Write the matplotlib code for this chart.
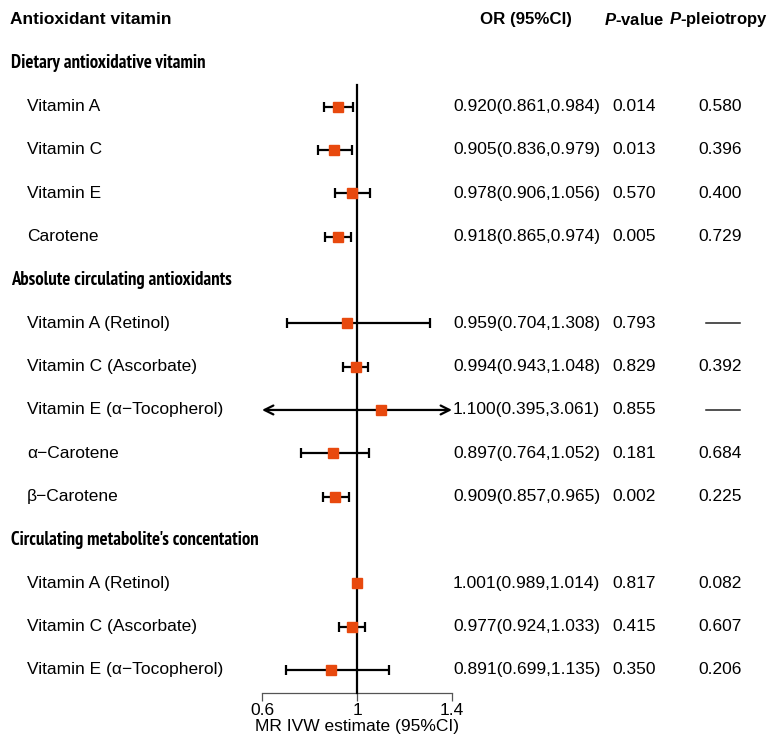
import numpy as np
import matplotlib.pyplot as plt
from matplotlib.transforms import blended_transform_factory
from matplotlib import font_manager
from matplotlib.font_manager import FontProperties

plt.rcParams['font.family'] = ['Liberation Sans', 'DejaVu Sans']
plt.rcParams['mathtext.fontset'] = 'custom'
plt.rcParams['mathtext.it'] = 'Liberation Sans:italic:bold'
plt.rcParams['mathtext.rm'] = 'Liberation Sans:bold'

# data
groups = ['Dietary antioxidative vitamin',
          'Absolute circulating antioxidants',
          "Circulating metabolite's concentation"]
group_items = [
    ['Vitamin A', 'Vitamin C', 'Vitamin E', 'Carotene'],
    ['Vitamin A (Retinol)', 'Vitamin C (Ascorbate)', 'Vitamin E (α−Tocopherol)',
     'α−Carotene', 'β−Carotene'],
    ['Vitamin A (Retinol)', 'Vitamin C (Ascorbate)', 'Vitamin E (α−Tocopherol)'],
]
odds = [0.920, 0.905, 0.978, 0.918,
        0.959, 0.994, 1.100, 0.897, 0.909,
        1.001, 0.977, 0.891]
ci_low = [0.861, 0.836, 0.906, 0.865,
          0.704, 0.943, 0.395, 0.764, 0.857,
          0.989, 0.924, 0.699]
ci_high = [0.984, 0.979, 1.056, 0.974,
           1.308, 1.048, 3.061, 1.052, 0.965,
           1.014, 1.033, 1.135]
p_value = ['0.014', '0.013', '0.570', '0.005',
           '0.793', '0.829', '0.855', '0.181', '0.002',
           '0.817', '0.415', '0.350']
p_pleio = ['0.580', '0.396', '0.400', '0.729',
           None, '0.392', None, '0.684', '0.225',
           '0.082', '0.607', '0.206']
xticks = [0.6, 1.0, 1.4]
xticklabels = ['0.6', '1', '1.4']


def condensed_bold():
    # look for a narrow / condensed bold face, else plain bold
    best = None
    for f in font_manager.fontManager.ttflist:
        w = f.weight if isinstance(f.weight, int) else (700 if 'bold' in str(f.weight) else 400)
        if w < 600 or 'italic' in f.style or 'oblique' in f.style:
            continue
        tag = (f.name + ' ' + str(f.stretch) + ' ' + f.fname).lower()
        if 'narrow' in tag:
            rank = 0
        elif 'semicondensed' in tag or 'semi-condensed' in tag:
            rank = 1
        elif 'condensed' in tag and 'extra' not in tag:
            rank = 2
        else:
            continue
        if best is None or rank < best[0]:
            best = (rank, f.fname)
    if best:
        return FontProperties(fname=best[1])
    return FontProperties(family='Liberation Sans', weight='bold')


W, H = 769, 736
fig = plt.figure(figsize=(W / 100, H / 100), dpi=100)
ax = fig.add_axes([262 / W, 0, 190 / W, 1])
row_h = 43.33
top = 20
ax.set_xlim(0.6, 1.4)
ax.set_ylim((H - top) / row_h, -top / row_h)

tr = blended_transform_factory(fig.transFigure, ax.transData)
fs = 12.5
orange = '#E8490E'

# header
ax.text(10 / W, 0, 'Antioxidant vitamin', transform=tr, fontsize=fs,
        fontweight='bold', va='center', ha='left')
ax.text(526 / W, 0, 'OR (95%CI)', transform=tr, fontsize=12.2,
        fontweight='bold', va='center', ha='center')
ax.text(634 / W, 0, r'$\mathit{P}$-value', transform=tr, fontsize=12,
        fontweight='bold', va='center', ha='center')
ax.text(718 / W, 0, r'$\mathit{P}$-pleiotropy', transform=tr, fontsize=12,
        fontweight='bold', va='center', ha='center')

# group header font: fit widths seen in the reference (~192 px and ~221 px)
gprop = condensed_bold()
gprop.set_size(fs)
renderer = fig.canvas.get_renderer()
scales = []
for txt, target in zip(groups[:2], [192, 221]):
    probe = ax.text(10 / W, 1, txt, transform=tr, fontproperties=gprop)
    scales.append(target / probe.get_window_extent(renderer).width)
    probe.remove()
gprop.set_size(min(14, fs * np.mean(scales)))

row = 1
k = 0
for g, items in zip(groups, group_items):
    ax.text(11 / W, row, g, transform=tr, fontproperties=gprop,
            va='center', ha='left')
    row += 1
    for name in items:
        ax.text(27 / W, row, name, transform=tr, fontsize=fs, va='center')
        ax.text(453 / W, row, f'{odds[k]:.3f}({ci_low[k]:.3f},{ci_high[k]:.3f})',
                transform=tr, fontsize=fs, va='center', ha='left')
        ax.text(634 / W, row, p_value[k], transform=tr, fontsize=fs,
                va='center', ha='center')
        if p_pleio[k] is None:
            ax.plot([706 / W, 740 / W], [row, row], transform=tr, color='#222222',
                    lw=1.1, clip_on=False)
        else:
            ax.text(720 / W, row, p_pleio[k], transform=tr, fontsize=fs,
                    va='center', ha='center')

        lo, hi = ci_low[k], ci_high[k]
        xmin, xmax = ax.get_xlim()
        if lo < xmin or hi > xmax:
            ax.annotate('', xy=(max(lo, xmin), row), xytext=(min(hi, xmax), row),
                        arrowprops=dict(arrowstyle='<->', lw=1.6, color='black',
                                        mutation_scale=16, shrinkA=0, shrinkB=0),
                        annotation_clip=False)
        else:
            ax.errorbar(odds[k], row, xerr=[[odds[k] - lo], [hi - odds[k]]],
                        fmt='none', ecolor='black', elinewidth=1.6, capsize=3.8,
                        capthick=1.6, zorder=2, clip_on=False)
        ax.plot(odds[k], row, marker='s', ms=7.8, color=orange, ls='none',
                zorder=4, clip_on=False)
        row += 1
        k += 1

axis_row = (693 - top) / row_h
ax.plot([1.0, 1.0], [(85 - top) / row_h, axis_row], color='black', lw=1.6,
        zorder=3, clip_on=False)

for s in ['top', 'left', 'right']:
    ax.spines[s].set_visible(False)
ax.spines['bottom'].set_position(('data', axis_row))
ax.spines['bottom'].set_color('#555555')
ax.spines['bottom'].set_linewidth(0.9)
ax.set_yticks([])
ax.set_xticks(xticks)
ax.set_xticklabels(xticklabels, fontsize=fs)
ax.tick_params(axis='x', direction='out', length=5.5, width=0.9, color='#555555', pad=2)
ax.text(1.0, (726.5 - top) / row_h, 'MR IVW estimate (95%CI)', transform=ax.transData,
        fontsize=fs, ha='center', va='center', clip_on=False)

fig.savefig('out.png', dpi=100)
